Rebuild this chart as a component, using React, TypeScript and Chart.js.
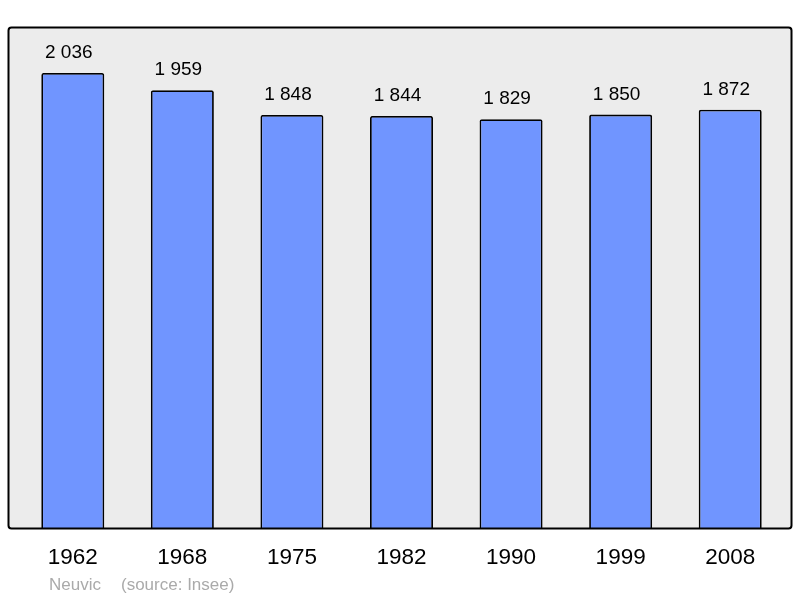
import React, { useEffect, useRef } from "react";
import { Chart, registerables } from "chart.js";

Chart.register(...registerables);

const years = ["1962", "1968", "1975", "1982", "1990", "1999", "2008"];
const population = [2036, 1959, 1848, 1844, 1829, 1850, 1872];
const valueLabels = ["2 036", "1 959", "1 848", "1 844", "1 829", "1 850", "1 872"];
const townName = "Neuvic";
const sourceText = "(source: Insee)";

const FONT = "'Liberation Sans', Arial, sans-serif";

function roundRect(ctx: CanvasRenderingContext2D, x: number, y: number, w: number, h: number, r: number) {
  ctx.beginPath();
  ctx.moveTo(x + r, y);
  ctx.lineTo(x + w - r, y);
  ctx.quadraticCurveTo(x + w, y, x + w, y + r);
  ctx.lineTo(x + w, y + h - r);
  ctx.quadraticCurveTo(x + w, y + h, x + w - r, y + h);
  ctx.lineTo(x + r, y + h);
  ctx.quadraticCurveTo(x, y + h, x, y + h - r);
  ctx.lineTo(x, y + r);
  ctx.quadraticCurveTo(x, y, x + r, y);
  ctx.closePath();
}

const framePlugin = {
  id: "frame",
  beforeDraw(chart: any) {
    const ctx = chart.ctx as CanvasRenderingContext2D;
    ctx.save();
    ctx.fillStyle = "#ffffff";
    ctx.fillRect(0, 0, chart.width, chart.height);
    roundRect(ctx, 8.5, 27.5, 783, 501, 3);
    ctx.fillStyle = "#ececec";
    ctx.fill();
    ctx.restore();
  },
  afterDatasetsDraw(chart: any) {
    const ctx = chart.ctx as CanvasRenderingContext2D;
    ctx.save();
    roundRect(ctx, 8.5, 27.5, 783, 501, 3);
    ctx.strokeStyle = "#000000";
    ctx.lineWidth = 2;
    ctx.stroke();

    // value labels
    const meta = chart.getDatasetMeta(0);
    ctx.fillStyle = "#000000";
    ctx.font = `19px ${FONT}`;
    ctx.textAlign = "center";
    ctx.textBaseline = "alphabetic";
    meta.data.forEach((bar: any, i: number) => {
      ctx.fillText(valueLabels[i], bar.x - 4, bar.y - 15);
    });

    // source line
    ctx.fillStyle = "#aaaaaa";
    ctx.font = `17px ${FONT}`;
    ctx.textAlign = "left";
    ctx.textBaseline = "middle";
    ctx.fillText(townName, 49, 585);
    ctx.fillText(sourceText, 121, 585);
    ctx.restore();
  },
};

export default function App() {
  const ref = useRef<HTMLCanvasElement | null>(null);
  useEffect(() => {
    if (!ref.current) return;
    const chart = new Chart(ref.current, {
      type: "bar",
      data: {
        labels: years,
        datasets: [
          {
            data: population,
            backgroundColor: "#7095ff",
            borderColor: "#000000",
            borderWidth: 1.8,
            borderRadius: 2,
            borderSkipped: "bottom",
            barPercentage: 0.575,
            categoryPercentage: 1,
          },
        ],
      },
      options: {
        animation: false,
        responsive: false,
        devicePixelRatio: 1,
        layout: { padding: { left: 18, right: 15, top: 27, bottom: 0 } },
        plugins: { legend: { display: false }, tooltip: { enabled: false } },
        scales: {
          x: {
            grid: { display: false, drawTicks: false },
            border: { display: false },
            ticks: { color: "#000000", font: { family: FONT, size: 22.5 }, padding: 16 },
            afterFit: (scale: any) => {
              scale.height = 70;
            },
          },
          y: {
            display: false,
            min: 0,
            max: 2242,
          },
        },
      },
      plugins: [framePlugin],
    });
    return () => chart.destroy();
  }, []);
  return (
    <div style={{ position: "absolute", left: 0, top: 0, width: 800, height: 598 }}>
      <canvas ref={ref} width={800} height={598} style={{ display: "block" }} />
    </div>
  );
}
